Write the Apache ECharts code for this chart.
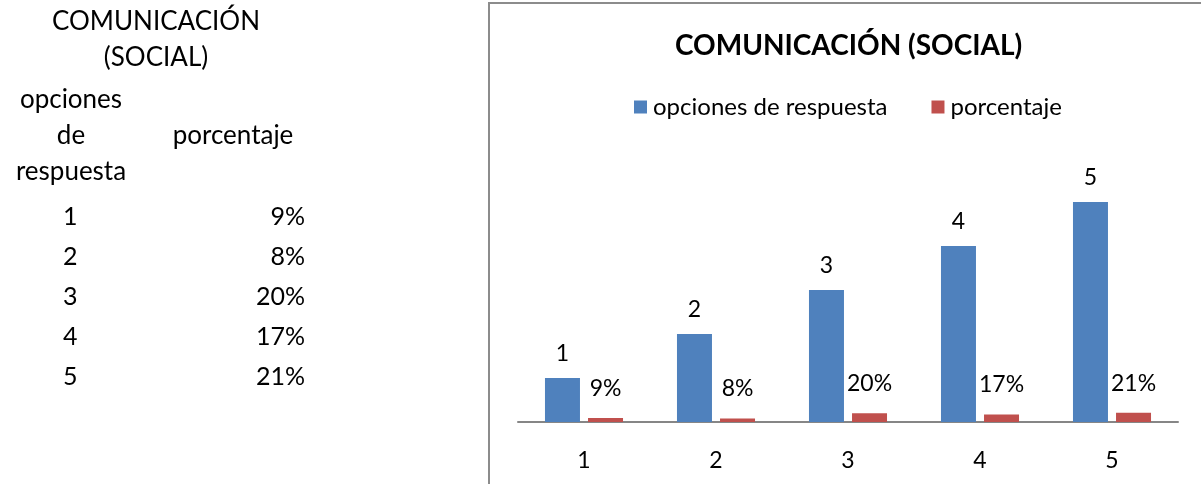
<!DOCTYPE html>
<html>
<head>
<meta charset="utf-8">
<script src="https://cdn.jsdelivr.net/npm/echarts@6/dist/echarts.min.js"></script>
<style>
  html, body { margin: 0; padding: 0; background: #fff; }
  #chart { width: 1201px; height: 484px; }
</style>
</head>
<body>
<div id="chart"></div>
<script>
const title = 'COMUNICACIÓN (SOCIAL)'
const categories = ['1', '2', '3', '4', '5']
const opciones = [1, 2, 3, 4, 5]
const porcentaje = [0.09, 0.08, 0.20, 0.17, 0.21]
const seriesNames = ['opciones de respuesta', 'porcentaje']

const font = 'Lato, "Open Sans", sans-serif'
const pct = v => Math.round(v * 100) + '%'

// left-hand table, as in the sheet
const tableText = []
const cell = { fontFamily: font, fontSize: 26, fill: '#000', textAlign: 'center', textVerticalAlign: 'middle' }
const head = [
  ['COMUNICACIÓN', 156, 22], ['(SOCIAL)', 156, 58],
  ['opciones', 71, 100], ['de', 71, 136], ['respuesta', 71, 172],
  ['porcentaje', 233, 136]
]
head.forEach(h => {
  tableText.push({ type: 'text', x: h[1], y: h[2], style: Object.assign({}, cell, { text: h[0] }) })
})
for (let i = 0; i < opciones.length; i++) {
  tableText.push({ type: 'text', x: 63, y: 217 + i * 40, style: Object.assign({}, cell, { text: String(opciones[i]), textAlign: 'left', fontSize: 25 }) })
  tableText.push({ type: 'text', x: 305, y: 217 + i * 40, style: Object.assign({}, cell, { text: pct(porcentaje[i]), textAlign: 'right', fontSize: 25 }) })
}

const chart = echarts.init(document.getElementById('chart'))
chart.setOption({
  animation: false,
  title: {
    text: title,
    left: 670,
    top: 27,
    textStyle: { fontFamily: font, fontSize: 28, fontWeight: 'bold', color: '#000' }
  },
  legend: {
    data: seriesNames,
    left: 629,
    top: 90,
    itemWidth: 13,
    itemHeight: 13,
    itemGap: 44,
    icon: 'rect',
    textStyle: { fontFamily: font, fontSize: 24, color: '#000', padding: [0, 0, 0, 1] }
  },
  grid: { left: 518, width: 660, top: 158, bottom: 62 },
  xAxis: {
    type: 'category',
    data: categories,
    axisLine: { lineStyle: { color: '#868686', width: 2 } },
    axisTick: { show: false },
    axisLabel: { fontFamily: font, fontSize: 23, color: '#000', margin: 27 }
  },
  yAxis: { type: 'value', min: 0, max: 6, show: false },
  series: [
    {
      name: seriesNames[0],
      type: 'bar',
      data: opciones,
      barWidth: 35,
      barGap: '23%',
      itemStyle: { color: '#4f81bd' },
      label: { show: true, position: 'top', distance: 13, fontFamily: font, fontSize: 23, color: '#000' }
    },
    {
      name: seriesNames[1],
      type: 'bar',
      data: porcentaje,
      barWidth: 35,
      itemStyle: { color: '#c0504d' },
      label: { show: true, position: 'top', distance: 18, fontFamily: font, fontSize: 23, color: '#000', formatter: p => pct(p.value) }
    }
  ],
  graphic: [
    { type: 'rect', shape: { x: 489, y: 3, width: 730, height: 500 }, style: { fill: 'none', stroke: '#8c8c8c', lineWidth: 2 }, silent: true }
  ].concat(tableText)
})
</script>
</body>
</html>
